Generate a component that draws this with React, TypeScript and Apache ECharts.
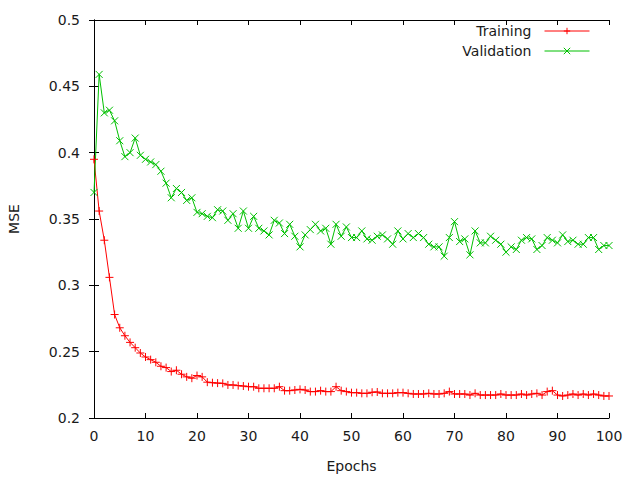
import React, { useEffect, useRef } from "react";
import * as echarts from "echarts";

const epochs: number[] = Array.from({ length: 101 }, (_, i) => i);

const training: number[] = [
  0.395, 0.356, 0.334, 0.306, 0.278, 0.268, 0.262, 0.257, 0.253, 0.249,
  0.246, 0.244, 0.242, 0.239, 0.238, 0.235, 0.236, 0.233, 0.231, 0.230,
  0.232, 0.231, 0.227, 0.2266, 0.2263, 0.2261, 0.2249, 0.2249, 0.2244, 0.2241,
  0.2236, 0.2236, 0.2224, 0.2224, 0.2224, 0.2224, 0.2236, 0.2206, 0.2206, 0.2211,
  0.2216, 0.2211, 0.2199, 0.2199, 0.2206, 0.2199, 0.2199, 0.2236, 0.2206, 0.2199,
  0.2191, 0.2191, 0.2186, 0.2186, 0.2194, 0.2196, 0.2186, 0.2186, 0.2186, 0.2191,
  0.2191, 0.2186, 0.2181, 0.2181, 0.2181, 0.2186, 0.2181, 0.2181, 0.2186, 0.2199,
  0.2181, 0.2181, 0.2181, 0.2173, 0.2186, 0.2173, 0.2173, 0.2173, 0.2173, 0.2181,
  0.2173, 0.2173, 0.2173, 0.2181, 0.2173, 0.2181, 0.2186, 0.2173, 0.2199, 0.2206,
  0.2173, 0.2166, 0.2173, 0.2181, 0.2173, 0.2181, 0.2173, 0.2181, 0.2173, 0.2166,
  0.2166,
];

const validation: number[] = [
  0.370, 0.459, 0.430, 0.432, 0.424, 0.409, 0.397, 0.400, 0.411, 0.398,
  0.395, 0.393, 0.391, 0.386, 0.377, 0.366, 0.373, 0.370, 0.364, 0.366,
  0.355, 0.354, 0.352, 0.351, 0.357, 0.356, 0.349, 0.354, 0.343, 0.356,
  0.343, 0.352, 0.343, 0.341, 0.338, 0.349, 0.347, 0.339, 0.346, 0.337,
  0.329, 0.338, 0.342, 0.346, 0.341, 0.343, 0.331, 0.346, 0.337, 0.344,
  0.336, 0.336, 0.341, 0.335, 0.334, 0.337, 0.338, 0.335, 0.331, 0.341,
  0.335, 0.339, 0.336, 0.339, 0.336, 0.331, 0.329, 0.329, 0.322, 0.336,
  0.348, 0.333, 0.335, 0.323, 0.341, 0.332, 0.332, 0.337, 0.334, 0.331,
  0.325, 0.329, 0.327, 0.334, 0.336, 0.335, 0.327, 0.330, 0.336, 0.334,
  0.332, 0.338, 0.333, 0.334, 0.331, 0.331, 0.336, 0.336, 0.327, 0.330,
  0.330,
];

const FONT = "DejaVu Sans";
const TEXT_COLOR = "#1a1a1a";
const PLUS = "path://M5,0 L5,10 M0,5 L10,5";
const CROSS = "path://M0,0 L10,10 M0,10 L10,0";

export default function App() {
  const ref = useRef<HTMLDivElement>(null);
  useEffect(() => {
    if (!ref.current) return;
    const chart = echarts.init(ref.current, undefined, { renderer: "svg" });
    const axisCommon = {
      type: "value" as const,
      axisLine: { show: true, lineStyle: { color: "#000", width: 1 } },
      axisTick: { show: true, inside: true, length: 5, lineStyle: { color: "#000" } },
      splitLine: { show: false },
    };
    chart.setOption({
      animation: false,
      backgroundColor: "#fff",
      textStyle: { fontFamily: FONT },
      grid: { left: 94, right: 31, top: 20, bottom: 62, containLabel: false, outerBoundsMode: "none" },
      legend: {
        orient: "vertical",
        right: 45,
        top: 19,
        align: "right",
        itemWidth: 45,
        itemHeight: 8,
        itemGap: 6,
        lineStyle: { width: 1 },
        itemStyle: { borderWidth: 1 },
        textStyle: { fontFamily: FONT, fontSize: 14, color: TEXT_COLOR, padding: [0, 8, 0, 0] },
        data: ["Training", "Validation"],
      },
      xAxis: [
        {
          ...axisCommon,
          min: 0,
          max: 100,
          interval: 10,
          name: "Epochs",
          nameLocation: "middle",
          nameGap: 41,
          nameTextStyle: { fontFamily: FONT, fontSize: 14, color: TEXT_COLOR },
          axisLabel: { fontFamily: FONT, fontSize: 14, color: TEXT_COLOR, margin: 11 },
        },
        {
          ...axisCommon,
          position: "top",
          min: 0,
          max: 100,
          interval: 10,
          axisLabel: { show: false },
        },
      ],
      yAxis: [
        {
          ...axisCommon,
          min: 0.2,
          max: 0.5,
          interval: 0.05,
          name: "MSE",
          nameLocation: "middle",
          nameGap: 73,
          nameRotate: 90,
          nameTextStyle: { fontFamily: FONT, fontSize: 14, color: TEXT_COLOR },
          axisLabel: { fontFamily: FONT, fontSize: 14, color: TEXT_COLOR, margin: 14 },
        },
        {
          ...axisCommon,
          position: "right",
          min: 0.2,
          max: 0.5,
          interval: 0.05,
          axisLabel: { show: false },
        },
      ],
      series: [
        {
          name: "Training",
          type: "line",
          xAxisIndex: 0,
          yAxisIndex: 0,
          data: epochs.map((e, i) => [e, training[i]]),
          symbol: PLUS,
          symbolSize: 8,
          showSymbol: true,
          lineStyle: { color: "#ff0000", width: 1 },
          itemStyle: { color: "#ff0000", borderColor: "#ff0000", borderWidth: 1 },
        },
        {
          name: "Validation",
          type: "line",
          xAxisIndex: 0,
          yAxisIndex: 0,
          data: epochs.map((e, i) => [e, validation[i]]),
          symbol: CROSS,
          symbolSize: 7,
          showSymbol: true,
          lineStyle: { color: "#00c000", width: 1 },
          itemStyle: { color: "#00c000", borderColor: "#00c000", borderWidth: 1 },
        },
      ],
    });
    return () => chart.dispose();
  }, []);
  return (
    <div
      ref={ref}
      style={{ position: "fixed", left: 0, top: 0, width: 640, height: 480, background: "#fff" }}
    />
  );
}
